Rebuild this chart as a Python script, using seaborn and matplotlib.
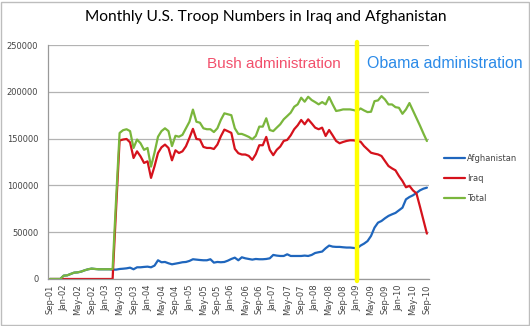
import numpy as np
import pandas as pd
import matplotlib
matplotlib.use("Agg")
import matplotlib.pyplot as plt
import seaborn as sns
from matplotlib.patches import Rectangle

# ---------------- data (monthly, Sep-01 .. Sep-10) ----------------
afghanistan = [
    0, 0, 0, 0, 3600, 3900, 5400, 6800, 7100, 7900,
    9300, 10400, 11100, 10700, 10400, 10400, 10400, 10400, 10000, 10000,
    10700, 11000, 11400, 12100, 10400, 12500, 12500, 12900, 13200, 12500,
    14300, 20000, 17900, 18200, 16800, 15700, 16400, 17100, 17900, 18200,
    19300, 21100, 20700, 20300, 20000, 20000, 21100, 17500, 18200, 17900,
    18200, 19600, 21400, 22800, 20000, 23200, 22100, 21400, 20700, 21400,
    21100, 21100, 21400, 22100, 25700, 25000, 24600, 24600, 26400, 24600,
    24600, 24600, 24600, 25000, 24600, 25700, 27800, 28600, 29300, 32800,
    35700, 34600, 34300, 34300, 33900, 33600, 33600, 33200, 32800, 35700,
    37800, 40500, 46000, 54900, 60200, 62000, 64900, 67400, 69100, 70600,
    73400, 76200, 85100, 87600, 89400, 91900, 94700, 96500, 97600,
]
iraq = [
    0, 0, 0, 0, 0, 0, 0, 0, 0, 0,
    0, 0, 0, 0, 0, 0, 0, 0, 0, 75000,
    148000, 149000, 149600, 146000, 129300, 136400, 131000, 124000, 125700, 108000,
    120400, 134600, 140700, 143600, 140000, 126800, 137500, 134600, 136400, 141800,
    150700, 160400, 149600, 149000, 141100, 140000, 140000, 138900, 143600, 152500,
    159600, 157900, 156100, 139000, 134400, 133000, 133000, 131500, 127300, 133300,
    142900, 142900, 151800, 138000, 132300, 138000, 141500, 147500, 148600, 153500,
    160000, 164200, 169900, 165300, 170600, 166300, 161700, 160000, 161700, 152800,
    159200, 153500, 147500, 145000, 146400, 147500, 148200, 148100, 147400, 146700,
    142000, 138500, 134900, 133900, 133100, 131400, 126000, 120700, 118200, 116100,
    110000, 104700, 98000, 99500, 94700, 91500, 77500, 63000, 48500,
]
total = [
    0, 0, 0, 0, 3600, 3900, 5400, 6800, 7100, 7900,
    9300, 10400, 11100, 10700, 10400, 10400, 10400, 10400, 10700, 85000,
    156000, 159000, 160000, 158000, 140000, 149000, 145000, 138000, 140000, 120000,
    135000, 152000, 158000, 161000, 158000, 142000, 153000, 152000, 154000, 161000,
    168000, 181000, 168000, 167000, 161000, 160000, 160000, 157000, 161000, 170000,
    177000, 176000, 175000, 161000, 155000, 155000, 153500, 151800, 149300, 152800,
    162800, 162800, 171700, 159200, 158000, 161700, 165300, 170600, 174100, 177700,
    184000, 186600, 193700, 189400, 194700, 191200, 189000, 186600, 189000, 186600,
    194400, 186600, 179500, 180200, 181200, 181200, 181200, 180500, 179400, 182200,
    180100, 178300, 178700, 190000, 190800, 195400, 191800, 186500, 186500, 183600,
    182900, 176500, 181200, 188000, 180000, 172000, 164000, 155500, 147400,
]
series_names = ["Afghanistan", "Iraq", "Total"]
series_colors = ["#1f66bd", "#d5121c", "#7ab63c"]
tick_labels = ["Sep-01", "Jan-02", "May-02", "Sep-02", "Jan-03", "May-03", "Sep-03",
               "Jan-04", "May-04", "Sep-04", "Jan-05", "May-05", "Sep-05", "Jan-06",
               "May-06", "Sep-06", "Jan-07", "May-07", "Sep-07", "Jan-08", "May-08",
               "Sep-08", "Jan-09", "May-09", "Sep-09", "Jan-10", "May-10", "Sep-10"]
y_ticks = [0, 50000, 100000, 150000, 200000, 250000]
obama_start = "Jan-09"

n = len(afghanistan)
month_idx = np.arange(n)
df = pd.DataFrame({
    "month": np.tile(month_idx, 3),
    "troops": afghanistan + iraq + total,
    "series": np.repeat(series_names, n),
})

# ---------------- figure ----------------
sns.set_theme(style="white")
plt.rcParams["font.family"] = ["DejaVu Sans"]

fig = plt.figure(figsize=(5.30, 3.26), dpi=100)
ax = fig.add_axes([48 / 530, 47 / 326, 381 / 530, 234 / 326])

sns.lineplot(data=df, x="month", y="troops", hue="series", hue_order=series_names,
             palette=series_colors, linewidth=1.6, ax=ax, legend=True)

ax.set_xlim(-0.5, 108.6)
ax.set_ylim(0, 250000)
ax.set_yticks(y_ticks)
ax.set_yticklabels([str(v) for v in y_ticks], fontsize=6, color="#444444")
ax.yaxis.grid(True, color="#b3b3b3", linewidth=0.9)
ax.xaxis.grid(False)
ax.set_axisbelow(True)

label_pos = [tick_labels.index(t) * 4 for t in tick_labels]
ax.set_xticks(label_pos)
ax.set_xticklabels(tick_labels, rotation=90, fontsize=6, color="#444444")
ax.set_xticks(np.arange(n + 1) - 0.5, minor=True)
ax.tick_params(axis="x", which="major", length=0, pad=4)
ax.tick_params(axis="x", which="minor", length=3, width=0.6, color="#999999", direction="out")
ax.tick_params(axis="y", which="major", length=4, width=0.8, color="#999999", direction="out", pad=3)
ax.set_xlabel("")
ax.set_ylabel("")

for s in ["top", "right"]:
    ax.spines[s].set_visible(False)
for s in ["left", "bottom"]:
    ax.spines[s].set_color("#999999")
    ax.spines[s].set_linewidth(0.9)

# Obama inauguration divider
ax.axvline(tick_labels.index(obama_start) * 4, ymin=-0.01, ymax=1.013, color="#ffff00",
           linewidth=3.2, clip_on=False, zorder=5)

fig.text(207 / 530, 1 - 64 / 326, "Bush administration", fontsize=11,
         family="Liberation Sans", color="#f2506c", va="center", ha="left")
fig.text(367 / 530, 1 - 64 / 326, "Obama administration", fontsize=11.4,
         family="Liberation Sans", color="#2a8ae8", va="center", ha="left")

fig.text(266 / 530, 1 - 17 / 326, "Monthly U.S. Troop Numbers in Iraq and Afghanistan",
         fontsize=11.2, family="Lato", color="#000000", ha="center", va="center")

leg = ax.legend(loc="upper left", bbox_to_anchor=(444 / 530, 1 - 154 / 326),
                bbox_transform=fig.transFigure, frameon=False, fontsize=6,
                handlelength=2.5, handletextpad=0.3, labelspacing=1.3, borderpad=0,
                borderaxespad=0)
for t in leg.get_texts():
    t.set_color("#444444")

fig.patches.append(Rectangle((0.5 / 530, 1.5 / 326), 528 / 530, 323 / 326,
                             transform=fig.transFigure, fill=False,
                             edgecolor="#bdbdbd", linewidth=1.0))

fig.savefig("out.png", dpi=100, facecolor="white")
